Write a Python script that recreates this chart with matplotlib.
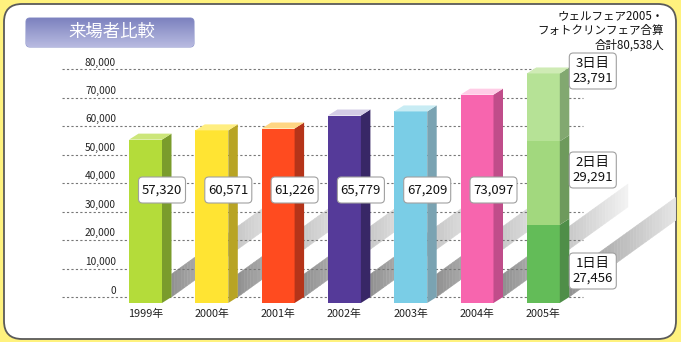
import numpy as np
import matplotlib.pyplot as plt
from matplotlib.patches import Polygon, FancyBboxPatch

plt.rcParams['font.family'] = ['Noto Sans CJK JP', 'DejaVu Sans']

# data
years = ['1999年', '2000年', '2001年', '2002年', '2003年', '2004年', '2005年']
visitors = [57320, 60571, 61226, 65779, 67209, 73097]
days_2005 = [27456, 29291, 23791]
day_names = ['1日目', '2日目', '3日目']
y_ticks = [0, 10000, 20000, 30000, 40000, 50000, 60000, 70000, 80000]

front_cols = ['#B4DC3A', '#FFE433', '#FF4B1F', '#553A99', '#7ACDE6', '#F765AE']
side_cols = ['#7A9C2C', '#B8A424', '#B53419', '#382766', '#7AA3B2', '#C04D8A']
top_cols = ['#CCE67A', '#FFEE80', '#FFD683', '#D4CCE6', '#C8ECF4', '#FFCCE6']
day_front = ['#63BC58', '#A2D87E', '#B6E296']
day_side = ['#4F8E48', '#6E9A5C', '#82A870']
day_top = '#CFEBB5'

# one pixel in data units (x: categories, y: visitors)
PX = 1 / 66.3
PY = 10000 / 28.5
W = 33 * PX       # front face width
DX = 9.5 * PX     # depth to the right
DY = 6 * PY       # depth upwards

fig = plt.figure(figsize=(6.81, 3.42), dpi=100)
fig.patch.set_facecolor('#FFF27E')

bg = fig.add_axes([0, 0, 1, 1], zorder=0)
bg.set_xlim(0, 681)
bg.set_ylim(342, 0)
bg.axis('off')

panel = FancyBboxPatch((4, 4), 672, 335, boxstyle='round,pad=0,rounding_size=18',
                       fc='white', ec='#5a5a5a', lw=1.3)
bg.add_patch(panel)

# title plate
plate = FancyBboxPatch((26, 18), 168, 29, boxstyle='round,pad=0,rounding_size=4',
                       fc='none', ec='#9098CC', lw=0.8)
bg.add_patch(plate)
grad = np.linspace(0, 1, 40)[:, None]
c_top = np.array([0.49, 0.51, 0.75])
c_bot = np.array([0.72, 0.73, 0.88])
img = c_top + (c_bot - c_top) * grad
img = np.repeat(img[:, None, :], 2, axis=1).reshape(40, 2, 3)
im = bg.imshow(img, extent=(26, 194, 47, 18), aspect='auto', zorder=1)
im.set_clip_path(plate)
bg.text(112, 32, '来場者比較', color='white', fontsize=12.5, ha='center', va='center', zorder=2)

bg.text(664, 9, 'ウェルフェア2005・\nフォトクリンフェア合算\n合計80,538人', ha='right', va='top',
        fontsize=8.3, linespacing=1.18, color='#111111')

ax = fig.add_axes([0, 0, 1, 1], zorder=1)
ax.patch.set_alpha(0)
ax.set_xlim(-145.5 * PX, (681 - 145.5) * PX)
ax.set_ylim(-(342 - 297) * PY, 297 * PY)
ax.axis('off')

xs = np.arange(len(years))


def draw_box(x, y0, y1, front, side, top=None):
    x0, x1 = x - W / 2, x + W / 2
    ax.add_patch(Polygon([(x0, y0 - DY), (x1, y0 - DY), (x1, y1 - DY), (x0, y1 - DY)],
                         closed=True, fc=front, ec='none', zorder=4))
    ax.add_patch(Polygon([(x1, y0 - DY), (x1 + DX, y0), (x1 + DX, y1), (x1, y1 - DY)],
                         closed=True, fc=side, ec='none', zorder=4))
    if top is not None:
        ax.add_patch(Polygon([(x0, y1 - DY), (x1, y1 - DY), (x1 + DX, y1), (x0 + DX, y1)],
                             closed=True, fc=top, ec='none', zorder=4))


# floor shadows running up to the right
for x in xs:
    start = x + W / 2 + DX
    steps = np.linspace(0, 125, 40)
    for s0, s1 in zip(steps[:-1], steps[1:]):
        g = 0.57 + 0.40 * min(1, s0 / 130) ** 0.9
        poly = Polygon([(start + s0 * PX, 0.72 * s0 * PY),
                        (start + s1 * PX, 0.72 * s1 * PY),
                        (start + s1 * PX, (0.72 * s1 + 23) * PY),
                        (start + s0 * PX, (0.72 * s0 + 23) * PY)],
                       closed=True, fc=(g, g, g), ec=(g, g, g), lw=0.3, zorder=1)
        ax.add_patch(poly)
        poly.set_clip_path(panel)

# dashed grid and tick labels
for v in y_ticks:
    ax.plot([(62 - 145.5) * PX, (583 - 145.5) * PX], [v, v], ls=(0, (2, 2)),
            color='#777777', lw=0.8, zorder=2)
    ax.text((116 - 145.5) * PX, v + 1.5 * PY, f'{v:,}', ha='right', va='bottom',
            fontsize=7.3, color='#222222', zorder=3)

for i, v in enumerate(visitors):
    draw_box(xs[i], 0, v, front_cols[i], side_cols[i], top_cols[i])

# 2005 stacked by day
base = 0
for k, v in enumerate(days_2005):
    draw_box(xs[6], base, base + v, day_front[k], day_side[k],
             day_top if k == len(days_2005) - 1 else None)
    base += v

ASPECT = PY / PX


def label_box(x, y, w, h, text):
    box = FancyBboxPatch((x - w / 2 * PX, y - h / 2 * PY), w * PX, h * PY,
                         boxstyle=f'round,pad=0,rounding_size={4 * PX}',
                         mutation_aspect=ASPECT, fc='white', ec='#A0A0A0', lw=0.8, zorder=6)
    ax.add_patch(box)
    ax.text(x, y, text, ha='center', va='center', fontsize=9.5, linespacing=1.1,
            color='#111111', zorder=7)


value_y = (297 - 190) * PY
for i, v in enumerate(visitors):
    label_box(xs[i] + W / 2, value_y, 47, 26, f'{v:,}')

day_label_y = [(297 - 271) * PY, (297 - 170) * PY, (297 - 71) * PY]
for k, v in enumerate(days_2005):
    label_box(xs[6] + 49.5 * PX, day_label_y[k], 47, 36, f'{day_names[k]}\n{v:,}')

for i, name in enumerate(years):
    ax.text(xs[i], -(314 - 297) * PY, name, ha='center', va='center', fontsize=7.8,
            color='#222222', zorder=3)

fig.savefig('out.png', dpi=100, facecolor=fig.get_facecolor())
